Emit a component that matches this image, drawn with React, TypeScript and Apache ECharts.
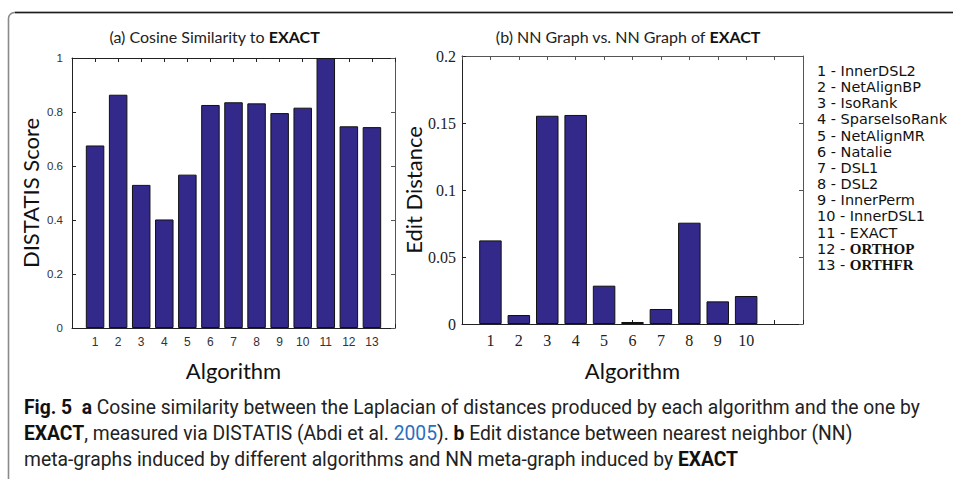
import React, { useEffect, useRef } from "react";
import * as echarts from "echarts";

const leftCategories = [1, 2, 3, 4, 5, 6, 7, 8, 9, 10, 11, 12, 13];
const leftScores = [0.676, 0.864, 0.53, 0.402, 0.568, 0.826, 0.836, 0.832, 0.796, 0.816, 1.0, 0.747, 0.744];
const rightCategories = [1, 2, 3, 4, 5, 6, 7, 8, 9, 10];
const rightDistances = [0.0624, 0.0067, 0.1554, 0.156, 0.0286, 0.0015, 0.0112, 0.0756, 0.0169, 0.0209];
const legendNumbers = [1, 2, 3, 4, 5, 6, 7, 8, 9, 10, 11, 12, 13];
const legendNames = ["InnerDSL2", "NetAlignBP", "IsoRank", "SparseIsoRank", "NetAlignMR", "Natalie", "DSL1", "DSL2", "InnerPerm", "InnerDSL1", "EXACT", "ORTHOP", "ORTHFR"];
const serifLegendNames = ["ORTHOP", "ORTHFR"];
const leftTitle = ["(a) Cosine Similarity to ", "EXACT"];
const rightTitle = ["(b) NN Graph vs. NN Graph of ", "EXACT"];
const captionLines = [
  "{b|Fig. 5}  {b|a} Cosine similarity between the Laplacian of distances produced by each algorithm and the one by",
  "{b|EXACT}, measured via DISTATIS (Abdi et al. {l|2005}). {b|b} Edit distance between nearest neighbor (NN)",
  "meta-graphs induced by different algorithms and NN meta-graph induced by {b|EXACT}",
];

const BAR_COLOR = "#33298a";
const SANS = "Lato, 'Open Sans', sans-serif";
const SERIF = "'Liberation Serif', 'DejaVu Serif', serif";
const TICK_SANS = "'Liberation Sans', Arial, sans-serif";
const LEG_FONT = "'DejaVu Sans', sans-serif";
const CAP = "Roboto, sans-serif";
const CAP_SIZE = 19.3;
const LEG_LH = 16.17;

export default function App() {
  const ref = useRef<HTMLDivElement>(null);
  useEffect(() => {
    if (!ref.current) return;
    const chart = echarts.init(ref.current, null, { renderer: "svg" });
    const axisLine = (c: string) => ({ show: true, onZero: false, lineStyle: { color: c, width: 1 } });
    const tick = (c: string) => ({ show: true, inside: true, length: 4, lineStyle: { color: c, width: 1 } });
    const nameStyle = { fontFamily: SANS, fontSize: 22, color: "#111" };

    const graphics: any[] = [];
    // frame
    graphics.push({ type: "rect", shape: { x: 8.5, y: 12.5, width: 1100, height: 1000, r: 6 }, style: { fill: "none", stroke: "#8a8a8a", lineWidth: 1.6 }, silent: true });
    graphics.push({ type: "line", shape: { x1: 15, y1: 12.5, x2: 953, y2: 12.5 }, style: { stroke: "#1e1e1e", lineWidth: 1.5 }, silent: true });
    // titles
    [[leftTitle, 214.5], [rightTitle, 628]].forEach(([t, cx]: any) => {
      graphics.push({
        type: "text", x: cx, y: 36,
        style: {
          text: t[0] + "{b|" + t[1] + "}", fontFamily: SANS, fontSize: 16, fill: "#222",
          textAlign: "center", textVerticalAlign: "middle", align: "center", verticalAlign: "middle",
          rich: { b: { fontFamily: SANS, fontSize: 16, fontWeight: "bold", fill: "#111" } },
        },
      });
    });
    // legend list (one multi-line text block)
    const legendText = legendNumbers
      .map((n, i) => {
        const name = legendNames[i];
        return serifLegendNames.includes(name) ? "{n|" + n + " - }{s|" + name + "}" : "{n|" + n + " - " + name + "}";
      })
      .join("\n");
    graphics.push({
      type: "text", x: 817, y: 71 - LEG_LH / 2, scaleX: 1.05,
      style: {
        text: legendText, fontFamily: LEG_FONT, fontSize: 13.8, lineHeight: LEG_LH, fill: "#111",
        textAlign: "left", textVerticalAlign: "top", align: "left", verticalAlign: "top",
        rich: {
          n: { fontFamily: LEG_FONT, fontSize: 13.8, lineHeight: LEG_LH, fill: "#111" },
          s: { fontFamily: SERIF, fontSize: 14.3, lineHeight: LEG_LH, fontWeight: "bold", fill: "#111" },
        },
      },
    });
    // caption
    captionLines.forEach((line, i) => {
      graphics.push({
        type: "text", x: 24, y: 407 + i * 26,
        style: {
          text: line, fontFamily: CAP, fontSize: CAP_SIZE, fill: "#222",
          textAlign: "left", textVerticalAlign: "middle", align: "left", verticalAlign: "middle",
          rich: {
            b: { fontFamily: CAP, fontSize: CAP_SIZE, fontWeight: "bold", fill: "#111" },
            l: { fontFamily: CAP, fontSize: CAP_SIZE, fill: "#2a6fc0" },
          },
        },
      });
    });

    chart.setOption({
      animation: false,
      backgroundColor: "#fff",
      grid: [
        { left: 72, top: 58, width: 323, height: 270 },
        { left: 462, top: 56, width: 341, height: 268 },
      ],
      xAxis: [
        {
          gridIndex: 0, type: "value", position: "bottom", min: 0, max: 14, interval: 1,
          axisLine: axisLine("#222"), axisTick: tick("#222"), splitLine: { show: false },
          axisLabel: { formatter: (v: number) => (leftCategories.includes(v) ? String(v) : ""), fontFamily: TICK_SANS, fontSize: 12, color: "#333", margin: 8 },
          name: "Algorithm", nameLocation: "middle", nameGap: 31, nameTextStyle: nameStyle,
        },
        {
          gridIndex: 0, type: "value", position: "top", min: 0, max: 14, interval: 1,
          axisLine: axisLine("#222"), axisTick: tick("#222"), splitLine: { show: false }, axisLabel: { show: false },
        },
        {
          gridIndex: 1, type: "value", position: "bottom", min: 0, max: 12, interval: 1,
          axisLine: axisLine("#222"), axisTick: tick("#222"), splitLine: { show: false },
          axisLabel: { formatter: (v: number) => (rightCategories.includes(v) ? String(v) : ""), fontFamily: SERIF, fontSize: 16, color: "#222", margin: 8 },
          name: "Algorithm", nameLocation: "middle", nameGap: 35, nameTextStyle: nameStyle,
        },
        {
          gridIndex: 1, type: "value", position: "top", min: 0, max: 12, interval: 1,
          axisLine: axisLine("#555"), axisTick: tick("#555"), splitLine: { show: false }, axisLabel: { show: false },
        },
      ],
      yAxis: [
        {
          gridIndex: 0, type: "value", position: "left", min: 0, max: 1, interval: 0.2,
          axisLine: axisLine("#222"), axisTick: tick("#222"), splitLine: { show: false },
          axisLabel: { fontFamily: TICK_SANS, fontSize: 11.5, color: "#333", margin: 9 },
          name: "DISTATIS Score", nameLocation: "middle", nameGap: 31, nameRotate: 90, nameTextStyle: nameStyle,
        },
        {
          gridIndex: 0, type: "value", position: "right", min: 0, max: 1, interval: 0.2,
          axisLine: axisLine("#555"), axisTick: tick("#555"), splitLine: { show: false }, axisLabel: { show: false },
        },
        {
          gridIndex: 1, type: "value", position: "left", min: 0, max: 0.2, interval: 0.05,
          axisLine: axisLine("#222"), axisTick: tick("#222"), splitLine: { show: false },
          axisLabel: { fontFamily: SERIF, fontSize: 16, color: "#222", margin: 6 },
          name: "Edit Distance", nameLocation: "middle", nameGap: 31, nameRotate: 90, nameTextStyle: nameStyle,
        },
        {
          gridIndex: 1, type: "value", position: "right", min: 0, max: 0.2, interval: 0.05,
          axisLine: axisLine("#555"), axisTick: tick("#555"), splitLine: { show: false }, axisLabel: { show: false },
        },
      ],
      series: [
        {
          type: "bar", xAxisIndex: 0, yAxisIndex: 0, barWidth: 18.5,
          data: leftCategories.map((c, i) => [c, leftScores[i]]),
          itemStyle: { color: BAR_COLOR, borderColor: "#111", borderWidth: 1 },
        },
        {
          type: "bar", xAxisIndex: 2, yAxisIndex: 2, barWidth: 22.5,
          data: rightCategories.map((c, i) => [c, rightDistances[i]]),
          itemStyle: { color: BAR_COLOR, borderColor: "#111", borderWidth: 1 },
        },
      ],
      graphic: graphics,
    });
    return () => chart.dispose();
  }, []);
  return <div ref={ref} style={{ position: "absolute", left: 0, top: 0, width: 953, height: 479, background: "#fff" }} />;
}
